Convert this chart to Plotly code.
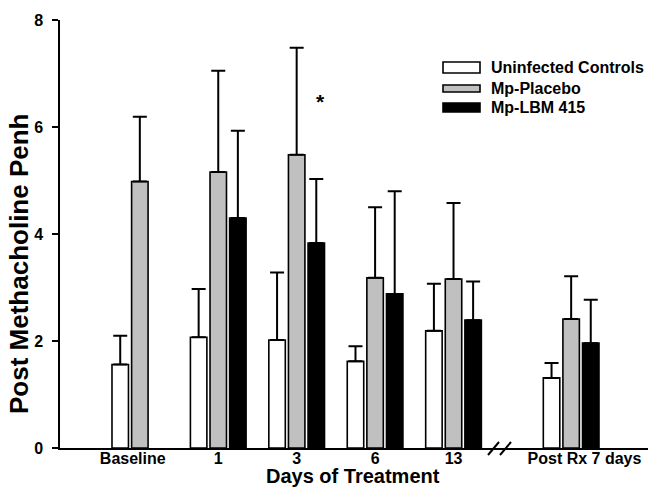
import plotly.graph_objects as go

categories = ["Baseline", "1", "3", "6", "13", "Post Rx 7 days"]
series_names = ["Uninfected Controls", "Mp-Placebo", "Mp-LBM 415"]
uninfected = [1.56, 2.07, 2.02, 1.62, 2.19, 1.31]
uninfected_err = [2.10, 2.97, 3.28, 1.90, 3.07, 1.59]
placebo = [4.98, 5.16, 5.48, 3.18, 3.16, 2.41]
placebo_err = [6.19, 7.05, 7.48, 4.50, 4.58, 3.21]
lbm = [None, 4.30, 3.83, 2.88, 2.39, 1.96]
lbm_err = [None, 5.93, 5.03, 4.80, 3.11, 2.77]
y_ticks = [0, 2, 4, 6, 8]

# category positions (axis break between "13" and "Post Rx 7 days")
x_pos = [0, 1, 2, 3, 4, 5.5]
XR = [-1.018, 6.48]

W, H = 651, 489
ML, MR, MT, MB = 60, 3, 20, 41
PW, PH = W - ML - MR, H - MT - MB


def px(xp):
    return (xp - ML) / PW


def py(yp):
    return (H - MB - yp) / PH


FONT = "Liberation Sans, Arial, Helvetica, sans-serif"
fills = ["#ffffff", "#c0c0c0", "#000000"]

fig = go.Figure()
for name, vals, errs, fill in zip(series_names, [uninfected, placebo, lbm],
                                  [uninfected_err, placebo_err, lbm_err], fills):
    plus = [(e - v) if (v is not None and e is not None) else 0 for v, e in zip(vals, errs)]
    fig.add_trace(go.Bar(
        x=x_pos, y=vals, name=name,
        marker=dict(color=fill, line=dict(color="#000000", width=1.6)),
        error_y=dict(type="data", symmetric=False, array=plus,
                     arrayminus=[0] * len(vals), color="#000000",
                     thickness=2, width=7),
        showlegend=False,
    ))

shapes = []
# manual legend
leg_boxes = [(62, 73), (85, 92), (103, 112)]
leg_text_y = [67.7, 88.3, 107.3]
for (y0, y1), fill in zip(leg_boxes, fills):
    shapes.append(dict(type="rect", xref="paper", yref="paper",
                       x0=px(443), x1=px(480), y0=py(y1), y1=py(y0),
                       fillcolor=fill, line=dict(color="#000000", width=1.6)))
annotations = []
for name, yy in zip(series_names, leg_text_y):
    annotations.append(dict(xref="paper", yref="paper", x=px(489), y=py(yy),
                            text=name, showarrow=False, xanchor="left", yanchor="middle",
                            font=dict(family=FONT, size=16, color="#000000", weight="bold")))

# axis break marks
for (x0, y0, x1, y1) in [(488, 455, 499, 442), (500, 455, 511, 442)]:
    shapes.append(dict(type="line", xref="paper", yref="paper",
                       x0=px(x0), y0=py(y0), x1=px(x1), y1=py(y1),
                       line=dict(color="#000000", width=2)))

# significance asterisk
annotations.append(dict(x=2.31, y=6.47, xref="x", yref="y", text="*", showarrow=False,
                        font=dict(family=FONT, size=21, color="#000000", weight="bold")))

# axis titles
annotations.append(dict(xref="paper", yref="paper", x=px(353), y=py(489),
                        text="Days of Treatment", showarrow=False,
                        xanchor="center", yanchor="bottom",
                        font=dict(family=FONT, size=20, color="#000000", weight="bold")))
annotations.append(dict(xref="paper", yref="paper", x=px(19), y=py(264),
                        text="Post Methacholine Penh", showarrow=False, textangle=-90,
                        xanchor="center", yanchor="middle",
                        font=dict(family=FONT, size=26, color="#000000", weight="bold")))

fig.update_layout(
    width=W, height=H,
    margin=dict(l=ML, r=MR, t=MT, b=MB, pad=0),
    plot_bgcolor="#ffffff", paper_bgcolor="#ffffff",
    barmode="group", bargap=0.25, bargroupgap=0.16,
    shapes=shapes, annotations=annotations,
    font=dict(family=FONT, color="#000000"),
)
fig.update_xaxes(range=XR, tickvals=[-0.09, 1, 2, 3, 4, 5.67], ticktext=categories,
                 showgrid=False, zeroline=False, showline=True, linecolor="#000000",
                 linewidth=1.5, ticks="", ticklen=0, ticklabelstandoff=-5,
                 tickfont=dict(family=FONT, size=16, color="#000000", weight="bold"))
fig.update_yaxes(range=[0, 8], tickvals=y_ticks, showgrid=False, zeroline=False,
                 showline=True, linecolor="#000000", linewidth=1.5,
                 ticks="outside", ticklen=6, tickwidth=1.5, tickcolor="#000000",
                 ticklabelstandoff=6,
                 tickfont=dict(family=FONT, size=16, color="#000000", weight="bold"))

fig.write_html("out.html")
